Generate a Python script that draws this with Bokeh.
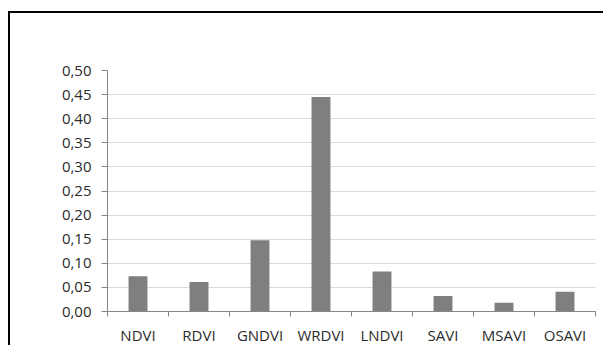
from bokeh.plotting import figure
from bokeh.models import ColumnDataSource, Range1d, FixedTicker, Label
from bokeh.embed import file_html
from bokeh.resources import INLINE

categories = ["NDVI", "RDVI", "GNDVI", "WRDVI", "LNDVI", "SAVI", "MSAVI", "OSAVI"]
rmse = [0.073, 0.061, 0.148, 0.445, 0.083, 0.032, 0.018, 0.041]
y_ticks = [0.00, 0.05, 0.10, 0.15, 0.20, 0.25, 0.30, 0.35, 0.40, 0.45, 0.50]
y_tick_labels = ["0,00", "0,05", "0,10", "0,15", "0,20", "0,25", "0,30",
                 "0,35", "0,40", "0,45", "0,50"]
title_text = "RMSE"

FONT = "Open Sans"
AXIS_COLOR = "#868686"
TEXT_COLOR = "#2b2b2b"

n = len(categories)
centers = [i + 0.5 for i in range(n)]
bounds = list(range(n + 1))
source = ColumnDataSource(dict(x=centers, cat=categories, rmse=rmse))

W, H = 595, 334
p = figure(x_range=Range1d(0, n), y_range=Range1d(0, 0.5),
           width=W, height=H, output_backend="svg", toolbar_location=None,
           min_border_left=97, min_border_right=10, min_border_top=57,
           min_border_bottom=33)
p.outline_line_color = None
p.background_fill_color = "white"
p.border_fill_color = "white"
p.styles = {"margin-left": "8px", "margin-top": "11px",
            "border-left": "2px solid #000", "border-top": "2px solid #000"}

# gridlines
p.xgrid.visible = False
p.ygrid.ticker = FixedTicker(ticks=y_ticks)
p.ygrid.grid_line_color = "#d9d9d9"
p.ygrid.grid_line_width = 1.2

# y axis
yax = p.yaxis[0]
yax.ticker = FixedTicker(ticks=y_ticks)
yax.major_label_overrides = dict(zip(y_ticks, y_tick_labels))
yax.axis_line_color = AXIS_COLOR
yax.major_tick_line_color = AXIS_COLOR
yax.major_tick_out = 6
yax.major_tick_in = 0
yax.minor_tick_line_color = None
yax.major_label_standoff = 10
yax.major_label_text_font = FONT
yax.major_label_text_font_size = "15px"
yax.major_label_text_color = TEXT_COLOR

# x axis: labels at category centres, ticks at category boundaries
xax = p.xaxis[0]
xax.ticker = FixedTicker(ticks=centers, minor_ticks=bounds)
xax.major_label_overrides = dict(zip(centers, categories))
xax.axis_line_color = AXIS_COLOR
xax.major_tick_line_color = None
xax.major_tick_out = 0
xax.major_tick_in = 0
xax.minor_tick_line_color = AXIS_COLOR
xax.minor_tick_out = 5
xax.minor_tick_in = 0
xax.major_label_standoff = 8
xax.major_label_text_font = FONT
xax.major_label_text_font_size = "15px"
xax.major_label_text_color = TEXT_COLOR

p.vbar(x="x", top="rmse", width=0.31, source=source,
       fill_color="#7f7f7f", line_color=None)

# chart title, right edge just past the y axis, baseline ~28px above frame top
title = Label(x=2, y=0.557, x_units="screen", y_units="data",
              text=title_text, text_font=FONT, text_font_size="20px",
              text_font_style="bold", text_color="#111111",
              text_baseline="alphabetic", text_align="right")
p.add_layout(title)

open("out.html", "w").write(file_html(p, INLINE))
